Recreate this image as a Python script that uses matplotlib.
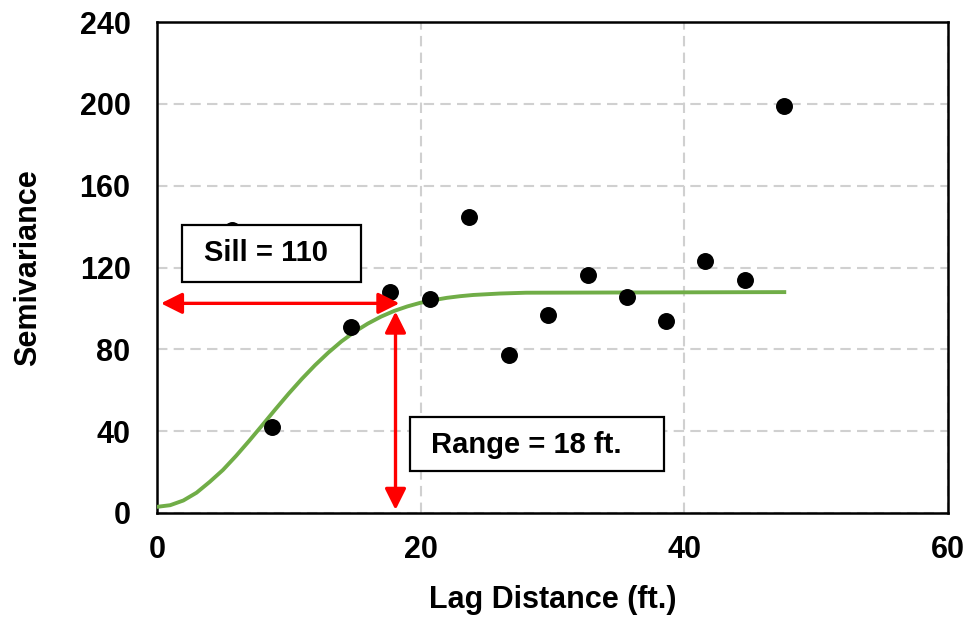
import matplotlib.pyplot as plt
from matplotlib.patches import Rectangle

plt.rcParams['font.family'] = ['Liberation Sans', 'DejaVu Sans']
plt.rcParams['font.weight'] = 'bold'

lag = [5.7, 8.7, 14.7, 17.7, 20.7, 23.7, 26.7, 29.7, 32.7, 35.7, 38.6, 41.6, 44.6, 47.6]
semivar = [138.5, 42, 90.7, 108.2, 104.8, 144.5, 77.4, 96.6, 116.6, 105.4, 93.7, 123.4, 113.8, 199]

# fitted model curve
model_x = [0, 1, 2, 3, 4, 5, 6, 7, 8, 9, 10, 11, 12, 13, 14, 15, 16, 17, 18, 19,
           20, 21, 22, 23, 24, 26, 28, 47.6]
model_y = [3.0, 3.8, 6.1, 9.9, 15.2, 21.0, 27.9, 35.3, 43.0, 50.8, 58.4, 65.6, 72.3,
           78.4, 83.9, 88.6, 92.6, 96.0, 98.8, 101.0, 102.8, 104.1, 105.2, 106.0,
           106.6, 107.3, 107.7, 108.0]

sill_y = 102.5
range_x = 18.1

fig = plt.figure(figsize=(9.69, 6.17), dpi=100)
ax = fig.add_axes([0.162, 0.1686, 0.816, 0.7955])

ax.grid(True, color='#d0d0d0', linestyle=(0, (5, 3)), linewidth=1.5, zorder=0)
ax.plot(model_x, model_y, color='#70AD47', linewidth=2.8, zorder=3)
ax.scatter(lag, semivar, s=125, color='black', zorder=4)

# red arrows
ax.annotate('', xy=(0.3, sill_y), xytext=(18.4, sill_y),
            arrowprops=dict(arrowstyle='<|-|>', color='red', lw=2.4,
                            mutation_scale=32, shrinkA=0, shrinkB=0), zorder=5)
ax.annotate('', xy=(range_x, 98.5), xytext=(range_x, 1.5),
            arrowprops=dict(arrowstyle='<|-|>', color='red', lw=2.4,
                            mutation_scale=32, shrinkA=0, shrinkB=0), zorder=5)

# text boxes
ax.add_patch(Rectangle((1.9, 112.7), 13.6, 28.0, facecolor='white', edgecolor='black',
                       linewidth=1.6, zorder=6))
ax.text(3.6, 127, 'Sill = 110', fontsize=21, fontweight='bold', va='center', zorder=7)
ax.add_patch(Rectangle((19.2, 20.5), 19.3, 26.3, facecolor='white', edgecolor='black',
                       linewidth=1.6, zorder=6))
ax.text(20.8, 33, 'Range = 18 ft.', fontsize=21, fontweight='bold', va='center', zorder=7)

ax.set_xlim(0, 60)
ax.set_ylim(0, 240)
ax.set_xticks([0, 20, 40, 60])
ax.set_yticks(range(0, 241, 40))
ax.tick_params(length=0, labelsize=22)
ax.tick_params(axis='y', pad=19)
ax.tick_params(axis='x', pad=16)
for lab in ax.get_xticklabels() + ax.get_yticklabels():
    lab.set_fontweight('bold')
for sp in ax.spines.values():
    sp.set_linewidth(1.8)
    sp.set_color('black')

ax.set_xlabel('Lag Distance (ft.)', fontsize=22, fontweight='bold', labelpad=14)
ax.set_ylabel('Semivariance', fontsize=22, fontweight='bold', labelpad=26)

fig.savefig('out.png', dpi=100)
